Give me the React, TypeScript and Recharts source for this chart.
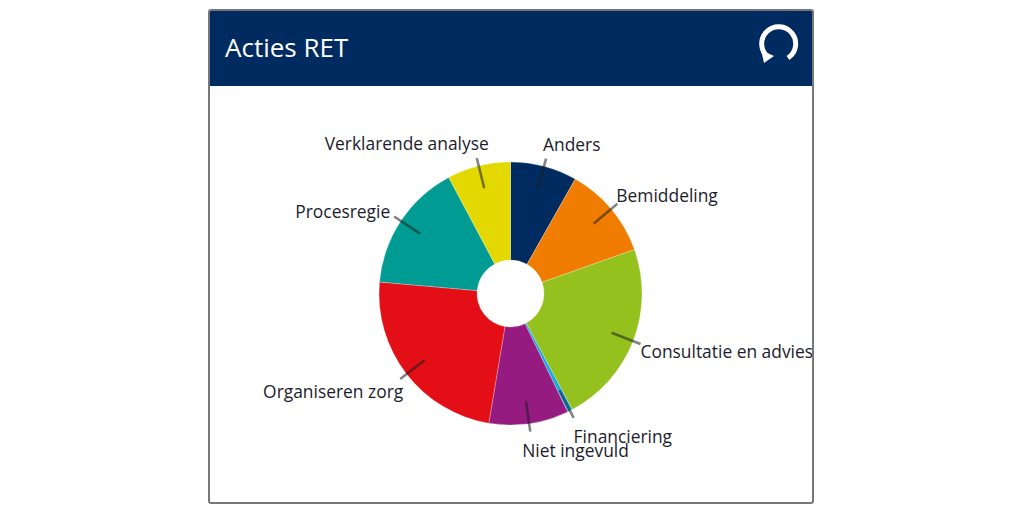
import React from "react";
import { PieChart, Pie, Cell } from "recharts";

const title = "Acties RET";
const categories = ["Anders", "Bemiddeling", "Consultatie en advies", "Financiering", "Niet ingevuld", "Organiseren zorg", "Procesregie", "Verklarende analyse"];
const values = [29.5, 41, 81.5, 2.2, 35.3, 85.5, 57, 28];
const colors = ["#002B60", "#F07D00", "#95C11F", "#1DA9DF", "#951B81", "#E30E16", "#009C94", "#E3D900"];

const rows = categories.map((name, i) => ({ name, value: values[i] }));

const FONT = "'Open Sans', 'Noto Sans', sans-serif";
const RAD = Math.PI / 180;
const nudges: Record<string, [number, number, "start" | "end"]> = {
  "Anders": [-3, -15, "start"],
  "Bemiddeling": [-1, -9, "start"],
  "Consultatie en advies": [0, 7, "start"],
  "Financiering": [0, 18, "start"],
  "Niet ingevuld": [-8, 18, "start"],
  "Organiseren zorg": [3, 12, "end"],
  "Procesregie": [-4, -6, "end"],
  "Verklarende analyse": [12, -15, "end"],
};

function renderLabel(props: any) {
  const { cx, cy, midAngle, outerRadius, name } = props;
  const c = Math.cos(-midAngle * RAD);
  const s = Math.sin(-midAngle * RAD);
  const r1 = outerRadius - 23;
  const r2 = outerRadius + 8;
  const ex = cx + r2 * c;
  const ey = cy + r2 * s;
  const [dx, dy, anchor] = nudges[name];
  return (
    <g>
      <line x1={cx + r1 * c} y1={cy + r1 * s} x2={ex} y2={ey} stroke="rgba(30,30,30,0.55)" strokeWidth={2.6} />
      <text x={ex + dx} y={ey + dy} textAnchor={anchor} dominantBaseline="central" fontFamily={FONT} fontSize={17.4} fill="#1c1c2c">
        {name}
      </text>
    </g>
  );
}

export default function App() {
  return (
    <div style={{ position: "absolute", left: 0, top: 0, width: 1024, height: 512, background: "#fff", overflow: "hidden" }}>
      <div style={{ position: "absolute", left: 208, top: 9, width: 606, height: 495, boxSizing: "border-box", border: "2px solid #77787b", borderRadius: 3, overflow: "hidden", background: "#fff" }}>
        <div style={{ position: "absolute", left: 0, top: 0, width: 602, height: 75, background: "#002B60" }}>
          <div style={{ position: "absolute", left: 15, top: 18, color: "#fff", fontFamily: FONT, fontSize: 26, lineHeight: "36px" }}>{title}</div>
          <svg width={46} height={46} style={{ position: "absolute", left: 545, top: 10 }}>
            <path d="M 13 36 A 17 17 0 1 1 33 37" fill="none" stroke="#fff" strokeWidth={5} />
            <path d="M 6 29 L 19 35 L 9 42 Z" fill="#fff" />
          </svg>
        </div>
        <div style={{ position: "absolute", left: 0, top: 75 }}>
          <PieChart width={602} height={416} margin={{ top: 0, right: 0, bottom: 0, left: 0 }}>
            <Pie data={rows} dataKey="value" nameKey="name" cx={300.5} cy={207.5} innerRadius={33.5} outerRadius={131.5} startAngle={90} endAngle={-270} stroke="#fff" strokeWidth={0.25} label={renderLabel} labelLine={false} isAnimationActive={false}>
              {rows.map((r, i) => (
                <Cell key={r.name} fill={colors[i]} />
              ))}
            </Pie>
          </PieChart>
        </div>
      </div>
    </div>
  );
}
